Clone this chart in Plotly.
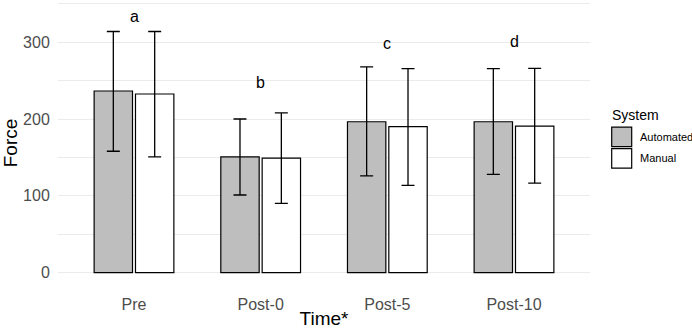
import plotly.graph_objects as go

categories = ["Pre", "Post-0", "Post-5", "Post-10"]
automated_mean = [236.5, 150.6, 196.4, 196.4]
automated_upper = [314, 200, 268, 265.5]
automated_lower = [158, 101, 126, 128]
manual_mean = [232.6, 149, 190, 190.8]
manual_upper = [314, 208, 265.5, 266]
manual_lower = [150.6, 90, 113.5, 116.6]
letters = ["a", "b", "c", "d"]
letter_y = [333, 247.6, 298, 301]

FONT = "Liberation Sans, Arial, sans-serif"

def err(mean, up, lo):
    return dict(type="data", symmetric=False,
                array=[u - m for u, m in zip(up, mean)],
                arrayminus=[m - l for m, l in zip(mean, lo)],
                color="black", thickness=1.3, width=6.5)

fig = go.Figure()
fig.add_trace(go.Bar(name="Automated", x=categories, y=automated_mean,
                     marker=dict(color="#BEBEBE", line=dict(color="black", width=1.2)),
                     error_y=err(automated_mean, automated_upper, automated_lower),
                     showlegend=False))
fig.add_trace(go.Bar(name="Manual", x=categories, y=manual_mean,
                     marker=dict(color="white", line=dict(color="black", width=1.2)),
                     error_y=err(manual_mean, manual_upper, manual_lower),
                     showlegend=False))

for c, t, yv in zip(categories, letters, letter_y):
    fig.add_annotation(x=c, y=yv, text=t, showarrow=False,
                       font=dict(size=16, color="black", family=FONT),
                       xanchor="center", yanchor="middle")

W, H = 692, 329
L, R, T, B = 58, 102, 0, 41
pw, ph = W - L - R, H - T - B

def px(x):
    return (x - L) / pw

def py(y):
    return (H - B - y) / ph

# manual legend (ggplot-style)
fig.add_annotation(xref="paper", yref="paper", x=px(610), y=py(116), text="System",
                   showarrow=False, xanchor="left", yanchor="middle",
                   font=dict(size=14, color="black", family=FONT))
legend_items = [("Automated", "#BEBEBE", 128), ("Manual", "white", 149.7)]
for name, col, top in legend_items:
    fig.add_shape(type="rect", xref="paper", yref="paper",
                  x0=px(611.7), x1=px(631.7), y0=py(top), y1=py(top + 19.7),
                  fillcolor=col, line=dict(color="black", width=1.2))
    fig.add_annotation(xref="paper", yref="paper", x=px(638), y=py(top + 9.8), text=name,
                       showarrow=False, xanchor="left", yanchor="middle",
                       font=dict(size=11, color="black", family=FONT))

fig.update_layout(
    width=W, height=H,
    margin=dict(l=L, r=R, t=T, b=B),
    paper_bgcolor="white", plot_bgcolor="white",
    barmode="group", bargap=0.347, bargroupgap=0.072,
    font=dict(family=FONT),
)
fig.update_xaxes(
    range=[-0.6, 3.6],
    showgrid=False, zeroline=False, showline=False,
    tickfont=dict(size=16, color="#4D4D4D", family=FONT),
    ticks="outside", ticklen=4, tickcolor="rgba(0,0,0,0)",
    title=dict(text="Time*", font=dict(size=19, color="black", family=FONT), standoff=2),
)
fig.update_yaxes(
    range=[-17.5, 355], tickvals=[0, 100, 200, 300],
    showgrid=True, gridcolor="#EBEBEB", gridwidth=1.1,
    minor=dict(tickvals=[50, 150, 250, 350], showgrid=True, gridcolor="#EBEBEB", gridwidth=0.8),
    zeroline=False, showline=False,
    tickfont=dict(size=16, color="#4D4D4D", family=FONT),
    ticks="outside", ticklen=4, tickcolor="rgba(0,0,0,0)",
    title=dict(text="Force", font=dict(size=19, color="black", family=FONT), standoff=4),
)

fig.write_html("out.html", config={"displayModeBar": False},
               post_script="document.body.style.margin='0';document.body.style.overflow='hidden';")
